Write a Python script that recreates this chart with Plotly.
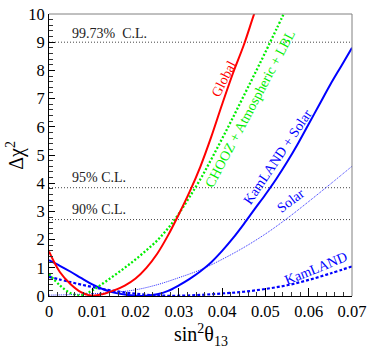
import plotly.graph_objects as go

# ---- data ----
x_glob = [0, .0025, .005, .0075, .01, .0125, .015, .0175, .02, .0225, .025, .0275, .03,
          .0325, .035, .0375, .04, .0425, .045, .0475, .05]
y_glob = [1.58, 0.85, 0.42, 0.13, 0.01, 0.07, 0.2, 0.37, 0.62, 1.0, 1.5, 2.15, 2.9,
          3.7, 4.6, 5.65, 6.8, 7.9, 8.9, 10.05, 11.1]

x_chooz = [0, .0025, .005, .0075, .01, .0125, .015, .0175, .02, .0225, .025, .0275, .03,
           .0325, .035, .0375, .04, .0425, .045, .0475, .05, .0525, .055]
y_chooz = [0.78, 0.38, 0.1, 0.02, 0.2, 0.45, 0.72, 1.0, 1.3, 1.62, 1.97, 2.4, 2.92,
           3.52, 4.15, 4.85, 5.58, 6.33, 7.1, 7.87, 8.65, 9.45, 10.25]

x_kls = [0, .0025, .005, .0075, .01, .0125, .015, .0175, .02, .0225, .025, .0275, .03,
         .0325, .035, .0375, .04, .0425, .045, .0475, .05, .0525, .055, .0575, .06,
         .0625, .065, .0675, .07]
y_kls = [1.27, 1.07, 0.86, 0.63, 0.41, 0.24, 0.12, 0.05, 0.01, 0.01, 0.06, 0.18, 0.38,
         0.61, 0.88, 1.2, 1.6, 2.05, 2.55, 3.08, 3.6, 4.15, 4.75, 5.4, 6.1,
         6.8, 7.5, 8.15, 8.8]

x_sol = [0, .005, .01, .015, .02, .025, .03, .035, .04, .045, .05, .055, .06, .065, .07]
y_sol = [0.03, 0.05, 0.08, 0.13, 0.22, 0.4, 0.65, 0.93, 1.3, 1.72, 2.2, 2.75, 3.35, 3.97, 4.6]

x_kl = [0, .005, .01, .015, .02, .025, .03, .035, .04, .045, .05, .055, .06, .065, .07]
y_kl = [0.68, 0.49, 0.32, 0.18, 0.08, 0.02, 0.01, 0.04, 0.09, 0.15, 0.25, 0.38, 0.57, 0.8, 1.05]

cl_values = [9.0, 3.84, 2.71]
cl_labels = ["99.73%  C.L.", "95% C.L.", "90% C.L."]
cl_label_y = [9.31, 4.19, 3.06]

x_ticks = [0, 0.01, 0.02, 0.03, 0.04, 0.05, 0.06, 0.07]
x_ticklabels = ["0", "0.01", "0.02", "0.03", "0.04", "0.05", "0.06", "0.07"]
y_ticks = list(range(0, 11))

FONT = "Times New Roman, Liberation Serif, Times, serif"

fig = go.Figure()

# C.L. lines
for v in cl_values:
    fig.add_trace(go.Scatter(x=[0, 0.07], y=[v, v], mode="lines",
                             line=dict(color="#444444", width=1, dash="1px,2px"),
                             hoverinfo="skip", showlegend=False))

fig.add_trace(go.Scatter(x=x_sol, y=y_sol, mode="lines", line_shape="spline",
                         line=dict(color="#2a2aff", width=1, dash="1px,1px"), showlegend=False))
fig.add_trace(go.Scatter(x=x_kl, y=y_kl, mode="lines", line_shape="spline",
                         line=dict(color="#0000ff", width=2.2, dash="3px,2px"), showlegend=False))
fig.add_trace(go.Scatter(x=x_kls, y=y_kls, mode="lines", line_shape="spline",
                         line=dict(color="#0000ff", width=2), showlegend=False))
fig.add_trace(go.Scatter(x=x_chooz, y=y_chooz, mode="lines", line_shape="spline",
                         line=dict(color="#00ee00", width=2.3, dash="2px,2px"), showlegend=False))
fig.add_trace(go.Scatter(x=x_glob, y=y_glob, mode="lines", line_shape="spline",
                         line=dict(color="#ff0000", width=2), showlegend=False))

ann = []
for lab, yy in zip(cl_labels, cl_label_y):
    ann.append(dict(x=0.0048, y=yy, xref="x", yref="y", text=lab, showarrow=False,
                    xanchor="left", yanchor="middle",
                    font=dict(family=FONT, size=14, color="#222222")))

curve_labels = [
    ("Global", 0.0405, 7.7, -63, "#ff0000"),
    ("CHOOZ + Atmospheric + LBL", 0.0465, 6.65, -62, "#00ee00"),
    ("KamLAND + Solar", 0.0529, 4.95, -56, "#0000ff"),
    ("Solar", 0.0559, 3.38, -37, "#0000ff"),
    ("KamLAND", 0.0617, 0.97, -22, "#0000ff"),
]
for t, xx, yy, ang, c in curve_labels:
    ann.append(dict(x=xx, y=yy, xref="x", yref="y", text=t, showarrow=False,
                    textangle=ang, xanchor="center", yanchor="middle",
                    font=dict(family=FONT, size=14, color=c)))

# axis titles
ann.append(dict(x=0.5, y=-0.138, xref="paper", yref="paper",
                text="sin<sup>2</sup>θ<sub>13</sub>", showarrow=False,
                xanchor="center", yanchor="middle",
                font=dict(family=FONT, size=20, color="black")))
ann.append(dict(x=-0.113, y=0.5, xref="paper", yref="paper",
                text="Δχ<sup>2</sup>", showarrow=False, textangle=-90,
                xanchor="center", yanchor="middle",
                font=dict(family=FONT, size=20, color="black")))

fig.update_layout(
    width=371, height=350,
    margin=dict(l=49, r=15, t=5, b=54),
    paper_bgcolor="white", plot_bgcolor="white",
    font=dict(family=FONT),
    annotations=ann,
    shapes=[
        dict(type="line", xref="paper", yref="paper", x0=0, x1=1, y0=1, y1=1,
             line=dict(color="#808080", width=1)),
        dict(type="line", xref="paper", yref="paper", x0=1, x1=1, y0=0, y1=1,
             line=dict(color="#808080", width=1)),
    ],
)
fig.update_xaxes(range=[0, 0.07], showgrid=False, zeroline=False,
                 showline=True, linecolor="black", linewidth=1,
                 ticks="inside", ticklen=8, tickcolor="black", tickwidth=1,
                 tickvals=x_ticks, ticktext=x_ticklabels,
                 ticklabeloverflow="allow",
                 tickfont=dict(family=FONT, size=16.5, color="black"),
                 minor=dict(ticks="inside", ticklen=4, dtick=0.002, tick0=0,
                            tickcolor="#333333", showgrid=False))
fig.update_yaxes(range=[0, 10], showgrid=False, zeroline=False,
                 showline=True, linecolor="black", linewidth=1,
                 ticks="inside", ticklen=6, tickcolor="black", tickwidth=1,
                 tickvals=y_ticks,
                 ticklabeloverflow="allow",
                 tickfont=dict(family=FONT, size=16.5, color="black"),
                 minor=dict(ticks="inside", ticklen=4, dtick=0.2, tick0=0,
                            tickcolor="#333333", showgrid=False))

fig.write_html("out.html")
